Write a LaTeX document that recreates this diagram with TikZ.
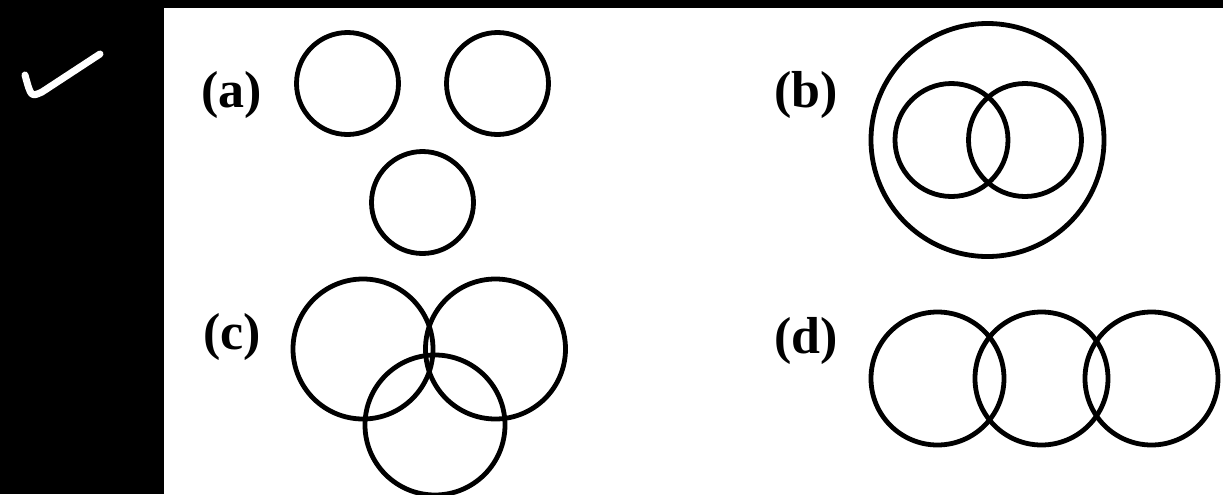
\documentclass[tikz,border=0pt]{standalone}
\usepackage{fontspec}
\setmainfont{Liberation Serif}
\begin{document}
\begin{tikzpicture}[x=0.5pt,y=-0.5pt,
  ring/.style={draw=black,circle,line width=2.4pt,inner sep=0pt,outer sep=0pt,minimum size=#1},
  lab/.style={font=\fontsize{26}{28}\selectfont\bfseries,inner sep=0pt}]
\useasboundingbox (0,0) rectangle (1223,494);
\fill[white] (0,0) rectangle (1223,494);
\fill[black] (0,0) rectangle (164,494);
\fill[black] (0,0) rectangle (1223,8);
% check mark
\coordinate (ck1) at (25,75);
\coordinate (ck2) at (42,92);
\coordinate (ck3) at (100,54);
\draw[white,line width=3.5pt,line cap=round,line join=round] (ck1) .. controls (31,97) .. (ck2) -- (ck3);
% (a)
\node[lab] (la) at (232,95) {(a)};
\node[ring=51pt] (a1) at (347.5,83.5) {};
\node[ring=51pt] (a2) at (497.5,83.5) {};
\node[ring=51pt] (a3) at (422.5,202.5) {};
% (b)
\node[lab] (lb) at (806,95) {(b)};
\node[ring=116.5pt] (b0) at (987.5,140) {};
\node[ring=56.5pt] (b1) at (951.5,140) {};
\node[ring=56.5pt] (b2) at (1025,140) {};
% (c)
\node[lab] (lc) at (232,337) {(c)};
\node[ring=70pt] (c1) at (363,349) {};
\node[ring=70pt] (c2) at (495.5,349) {};
\node[ring=70pt] (c3) at (435,425) {};
% (d)
\node[lab] (ld) at (806,341) {(d)};
\node[ring=66.5pt] (d1) at (937.5,378.5) {};
\node[ring=66.5pt] (d2) at (1041.5,378.5) {};
\node[ring=66.5pt] (d3) at (1151.5,378.5) {};
\end{tikzpicture}
\end{document}
